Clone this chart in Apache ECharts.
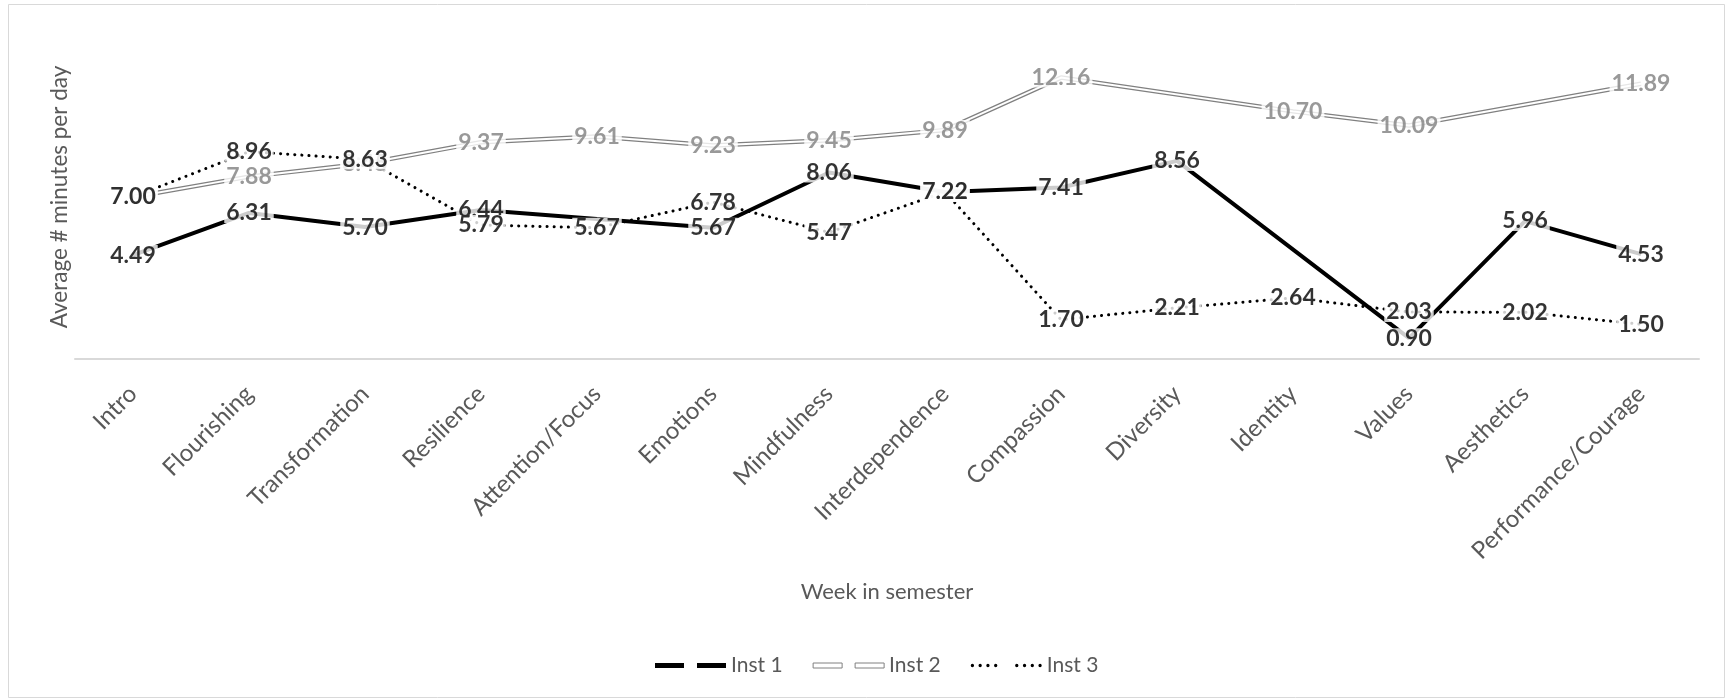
<!DOCTYPE html>
<html>
<head>
<meta charset="utf-8">
<title>Average minutes per day</title>
<script src="https://cdn.jsdelivr.net/npm/echarts@6/dist/echarts.min.js"></script>
<style>
    html, body { margin: 0; padding: 0; background: #fff; }
    #echarts { width: 1726px; height: 699px; }
</style>
</head>
<body>
<div id="echarts"></div>
<script>
// 周次
var weeks = ['Intro', 'Flourishing', 'Transformation', 'Resilience', 'Attention/Focus',
    'Emotions', 'Mindfulness', 'Interdependence', 'Compassion', 'Diversity',
    'Identity', 'Values', 'Aesthetics', 'Performance/Courage'];

// 三个机构的数据 (null = 该周没有数据)
var inst1 = [4.49, 6.31, 5.70, 6.44, 6.05, 5.67, 8.06, 7.22, 7.41, 8.56, null, 0.90, 5.96, 4.53];
var inst2 = [7.00, 7.88, 8.45, 9.37, 9.61, 9.23, 9.45, 9.89, 12.16, null, 10.70, 10.09, null, 11.89];
var inst3 = [7.00, 8.96, 8.63, 5.79, 5.67, 6.78, 5.47, 7.22, 1.70, 2.21, 2.64, 2.03, 2.02, 1.50];

// 被遮住、不显示标签的点
var inst1NoLabel = [4];

var FONT = 'Lato';
var GRAY = '#595959';

ready(function() {
    initView();
});

function ready(fn) {
    if (document.readyState !== 'loading') fn();
    else document.addEventListener('DOMContentLoaded', fn);
}

var myChart;
function initView() {
    myChart = echarts.init(document.getElementById('echarts'));
    myChart.setOption(getOptions(), true);
}

// 标签数据，空值换成 '-'
function labelData(arr, skip) {
    return arr.map(function(v, i) {
        if (v === null || (skip && skip.indexOf(i) >= 0)) return '-';
        return v;
    });
}

function lineData(arr) {
    return arr.map(function(v) { return v === null ? '-' : v; });
}

// 标签系列 (单独一层，白底遮住线)
function labelSeries(name, arr, color, skip) {
    return {
        name: name + ' label',
        type: 'scatter',
        symbolSize: 1,
        silent: true,
        zlevel: 1,
        z: 10,
        itemStyle: { color: 'rgba(0,0,0,0)' },
        label: {
            show: true,
            position: 'inside',
            color: color,
            fontFamily: FONT,
            fontWeight: 'bold',
            fontSize: 23,
            lineHeight: 20,
            backgroundColor: '#ffffff',
            padding: [0, 2],
            formatter: function(p) { return Number(p.value).toFixed(2); }
        },
        data: labelData(arr, skip)
    };
}

// 图例图标
function dotsPath() {
    var p = '';
    var xs = [0, 7, 14, 21, 40, 47, 54, 61];
    for (var i = 0; i < xs.length; i++) {
        p += 'M' + xs[i] + ',1.5a1.5,1.5 0 1,0 3,0a1.5,1.5 0 1,0 -3,0z';
    }
    return 'path://' + p;
}
var barsPath = 'path://M0,0h29v5h-29z M42,0h29v5h-29z';

function getOptions() {
    var option = {
        backgroundColor: '#fff',
        animation: false,
        textStyle: { fontFamily: FONT },
        graphic: [{
            type: 'rect',
            shape: { x: 8.5, y: 4.5, width: 1716, height: 693 },
            style: { fill: 'none', stroke: '#d9d9d9', lineWidth: 1 },
            silent: true
        }],
        legend: {
            left: 650,
            top: 650,
            itemWidth: 71,
            itemHeight: 5,
            itemGap: 30,
            textStyle: { color: GRAY, fontSize: 21, fontFamily: FONT },
            data: [
                { name: 'Inst 1', icon: barsPath, itemStyle: { color: '#000', borderWidth: 0 } },
                { name: 'Inst 2', icon: barsPath, itemStyle: { color: '#fff', borderColor: '#808080', borderWidth: 1 } },
                { name: 'Inst 3', icon: dotsPath(), itemStyle: { color: '#000', borderWidth: 0 } }
            ]
        },
        grid: {
            left: 75,
            right: 27,
            top: 35,
            bottom: 340
        },
        xAxis: {
            type: 'category',
            data: weeks,
            boundaryGap: true,
            name: 'Week in semester',
            nameLocation: 'middle',
            nameGap: 222,
            nameTextStyle: { color: GRAY, fontSize: 22, fontFamily: FONT },
            axisLine: { lineStyle: { color: '#d9d9d9', width: 2 } },
            axisTick: { show: false },
            axisLabel: {
                interval: 0,
                rotate: 45,
                margin: 31,
                color: GRAY,
                fontSize: 24,
                fontFamily: FONT
            }
        },
        yAxis: {
            type: 'value',
            min: 0,
            max: 14,
            interval: 2,
            name: 'Average # minutes per day',
            nameLocation: 'middle',
            nameGap: 4,
            nameTextStyle: { color: GRAY, fontSize: 22.5, fontFamily: FONT },
            axisLine: { show: false },
            axisTick: { show: false },
            axisLabel: { show: false },
            splitLine: { show: false }
        },
        series: [
            {
                name: 'Inst 1',
                type: 'line',
                symbol: 'none',
                connectNulls: true,
                z: 3,
                lineStyle: { color: '#000', width: 4 },
                itemStyle: { color: '#000' },
                data: lineData(inst1)
            }, {
                name: 'Inst 2',
                type: 'line',
                symbol: 'none',
                connectNulls: true,
                z: 2,
                lineStyle: { color: '#808080', width: 4.5 },
                itemStyle: { color: '#808080' },
                data: lineData(inst2)
            }, {
                name: 'Inst 2 inner',
                type: 'line',
                symbol: 'none',
                connectNulls: true,
                silent: true,
                z: 2,
                lineStyle: { color: '#fff', width: 2 },
                data: lineData(inst2)
            }, {
                name: 'Inst 3',
                type: 'line',
                symbol: 'none',
                connectNulls: true,
                z: 3,
                lineStyle: { color: '#000', width: 3, type: [0.1, 7], cap: 'round' },
                itemStyle: { color: '#000' },
                data: lineData(inst3)
            },
            labelSeries('Inst 1', inst1, '#000', inst1NoLabel),
            labelSeries('Inst 2', inst2, '#7f7f7f'),
            labelSeries('Inst 3', inst3, '#000')
        ]
    };
    return option;
}
</script>
</body>
</html>
